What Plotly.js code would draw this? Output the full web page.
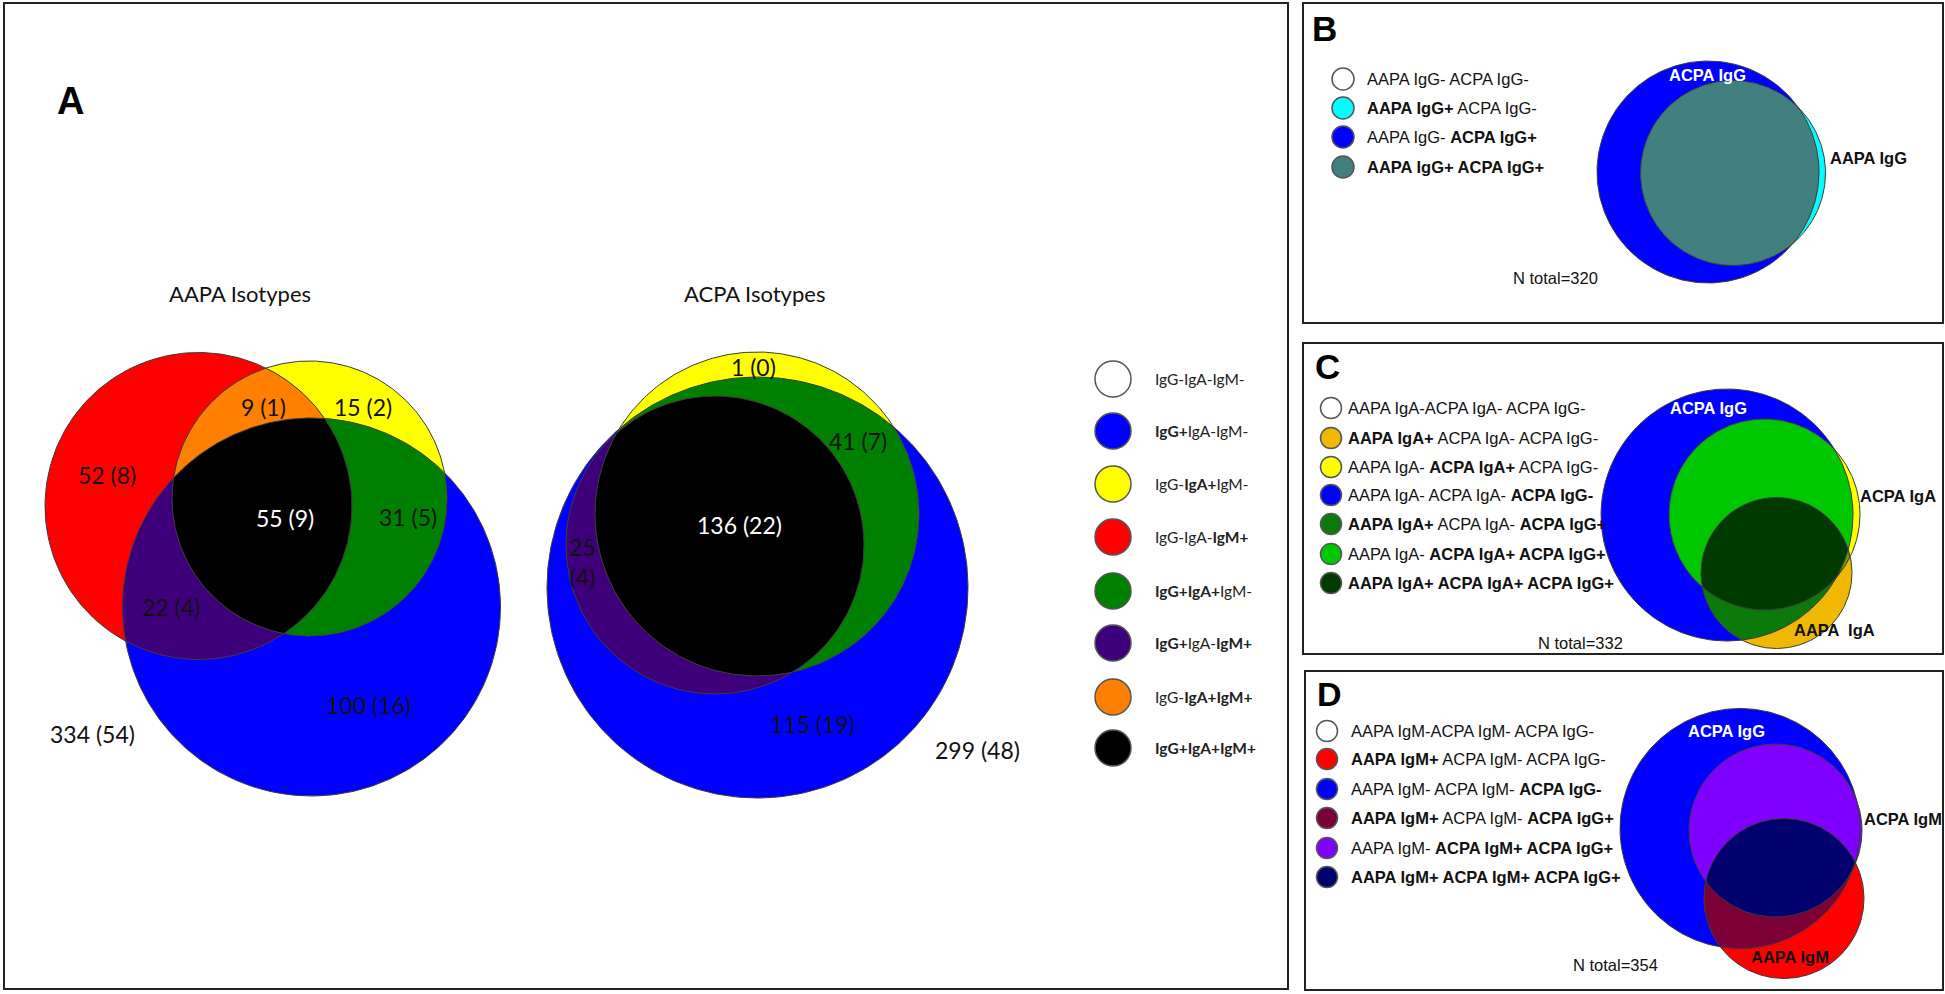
<!DOCTYPE html>
<html>
<head>
<meta charset="utf-8">
<script src="https://cdn.plot.ly/plotly-3.0.1.min.js"></script>
<style>html,body{margin:0;padding:0;background:#fff;}</style>
</head>
<body>
<div id="fig" style="width:1945px;height:994px;"></div>
<script>
// ---- values ----
// panel A, AAPA isotypes: IgM only, IgA+IgM, IgA only, all, IgG+IgA, IgG+IgM, IgG only, none
var aapaN = [52, 9, 15, 55, 31, 22, 100, 334];
var aapaPct = [8, 1, 2, 9, 5, 4, 16, 54];
// panel A, ACPA isotypes: IgA only, IgG+IgA, all, IgG+IgM, IgG only, none
var acpaN = [1, 41, 136, 25, 115, 299];
var acpaPct = [0, 7, 22, 4, 19, 48];

var isoLegend = ['IgG-IgA-IgM-', '<b>IgG+</b>IgA-IgM-', 'IgG-<b>IgA+</b>IgM-', 'IgG-IgA-<b>IgM+</b>',
  '<b>IgG+IgA+</b>IgM-', '<b>IgG+</b>IgA-<b>IgM+</b>', 'IgG-<b>IgA+IgM+</b>', '<b>IgG+IgA+IgM+</b>'];
var isoColors = ['#ffffff', '#0000ff', '#ffff00', '#ff0000', '#008000', '#3d007a', '#ff8000', '#000000'];

var bLegend = ['AAPA IgG- ACPA IgG-', '<b>AAPA IgG+</b> ACPA IgG-', 'AAPA IgG- <b>ACPA IgG+</b>', '<b>AAPA IgG+ ACPA IgG+</b>'];
var bColors = ['#ffffff', '#00ffff', '#0000ff', '#427f7f'];

var cLegend = ['AAPA IgA-ACPA IgA- ACPA IgG-', '<b>AAPA IgA+</b> ACPA IgA- ACPA IgG-', 'AAPA IgA- <b>ACPA IgA+</b> ACPA IgG-',
  'AAPA IgA- ACPA IgA- <b>ACPA IgG-</b>', '<b>AAPA IgA+</b> ACPA IgA- <b>ACPA IgG+</b>', 'AAPA IgA- <b>ACPA IgA+ ACPA IgG+</b>',
  '<b>AAPA IgA+ ACPA IgA+ ACPA IgG+</b>'];
var cColors = ['#ffffff', '#f0b800', '#ffff00', '#0000ff', '#0b7a0b', '#00c800', '#003a00'];

var dLegend = ['AAPA IgM-ACPA IgM- ACPA IgG-', '<b>AAPA IgM+</b> ACPA IgM- ACPA IgG-', 'AAPA IgM- ACPA IgM- <b>ACPA IgG-</b>',
  '<b>AAPA IgM+</b> ACPA IgM- <b>ACPA IgG+</b>', 'AAPA IgM- <b>ACPA IgM+ ACPA IgG+</b>', '<b>AAPA IgM+ ACPA IgM+ ACPA IgG+</b>'];
var dColors = ['#ffffff', '#ff0000', '#0000ff', '#7a0036', '#8000ff', '#00006e'];

var nTotal = [320, 332, 354];

// ---- drawing geometry (canvas units) ----
var W = 1945, H = 994;
var fontA = 'Lato, "Open Sans", sans-serif';
var fontN = '"Liberation Sans", Arial, sans-serif';

// each venn: circles, colour of every region (key = indices of circles it lies in)
var venns = [
  { // AAPA: IgG, IgA, IgM
    c: [{x: 311.5, y: 607, r: 189}, {x: 309.5, y: 498.5, r: 137.5}, {x: 198.5, y: 506, r: 153.5}],
    col: {'0': isoColors[1], '1': isoColors[2], '2': isoColors[3], '01': isoColors[4], '02': isoColors[5], '12': isoColors[6], '012': isoColors[7]}
  },
  { // ACPA: IgG, IgA, IgM
    c: [{x: 757.5, y: 587.5, r: 210.5}, {x: 757, y: 514, r: 162}, {x: 715, y: 545, r: 149}],
    col: {'0': isoColors[1], '1': isoColors[2], '2': isoColors[3], '01': isoColors[4], '02': isoColors[5], '12': isoColors[6], '012': isoColors[7]}
  },
  { // B: ACPA IgG, AAPA IgG
    c: [{x: 1708, y: 172, r: 111}, {x: 1733, y: 173, r: 92.5}],
    col: {'0': bColors[2], '1': bColors[1], '01': bColors[3]}
  },
  { // C: ACPA IgG, ACPA IgA, AAPA IgA
    c: [{x: 1727, y: 515, r: 126}, {x: 1764.5, y: 514.5, r: 95.5}, {x: 1776.5, y: 573, r: 75.5}],
    col: {'0': cColors[3], '1': cColors[2], '2': cColors[1], '01': cColors[5], '02': cColors[4], '12': '#6a9a00', '012': cColors[6]}
  },
  { // D: ACPA IgG, ACPA IgM, AAPA IgM
    c: [{x: 1740, y: 828.5, r: 120}, {x: 1775.5, y: 830.5, r: 86.5}, {x: 1784, y: 898.5, r: 80}],
    col: {'0': dColors[2], '1': dColors[4], '2': dColors[1], '01': dColors[4], '02': dColors[3], '12': dColors[5], '012': dColors[5]}
  }
];

// intersection of a set of discs, as a closed polygon
function interPoly(cs) {
  var pts = [], N = 720;
  function inAll(px, py, s1, s2) {
    for (var k = 0; k < cs.length; k++) {
      if (k === s1 || k === s2) continue;
      var dx = px - cs[k].x, dy = py - cs[k].y;
      if (Math.sqrt(dx * dx + dy * dy) > cs[k].r + 0.05) return false;
    }
    return true;
  }
  cs.forEach(function(c, i) {
    for (var t = 0; t < N; t++) {
      var a = 2 * Math.PI * t / N;
      var px = c.x + c.r * Math.cos(a), py = c.y + c.r * Math.sin(a);
      if (inAll(px, py, i, -1)) pts.push([px, py]);
    }
  });
  for (var i = 0; i < cs.length; i++) {
    for (var j = i + 1; j < cs.length; j++) {
      var a = cs[i], b = cs[j];
      var dx = b.x - a.x, dy = b.y - a.y, d = Math.sqrt(dx * dx + dy * dy);
      if (d === 0 || d > a.r + b.r || d < Math.abs(a.r - b.r)) continue;
      var l = (a.r * a.r - b.r * b.r + d * d) / (2 * d), h = Math.sqrt(Math.max(0, a.r * a.r - l * l));
      var mx = a.x + l * dx / d, my = a.y + l * dy / d;
      [[mx + h * dy / d, my - h * dx / d], [mx - h * dy / d, my + h * dx / d]].forEach(function(p) {
        if (inAll(p[0], p[1], i, j)) pts.push(p);
      });
    }
  }
  if (pts.length < 3) return null;
  var cx = 0, cy = 0;
  pts.forEach(function(p) { cx += p[0]; cy += p[1]; });
  cx /= pts.length; cy /= pts.length;
  pts.sort(function(p, q) { return Math.atan2(p[1] - cy, p[0] - cx) - Math.atan2(q[1] - cy, q[0] - cx); });
  pts.push(pts[0]);
  return pts;
}

var traces = [];
venns.forEach(function(v) {
  var n = v.c.length, keys = [];
  for (var m = 1; m < (1 << n); m++) {
    var k = '';
    for (var i = 0; i < n; i++) if (m & (1 << i)) k += i;
    keys.push(k);
  }
  keys.sort(function(a, b) { return a.length - b.length || (a < b ? -1 : 1); });
  keys.forEach(function(k) {
    var poly = interPoly(k.split('').map(function(s) { return v.c[+s]; }));
    if (!poly) return;
    traces.push({
      type: 'scatter', mode: 'lines', fill: 'toself', fillcolor: v.col[k],
      x: poly.map(function(p) { return p[0]; }), y: poly.map(function(p) { return p[1]; }),
      line: {width: 0, color: v.col[k]}, hoverinfo: 'skip', showlegend: false
    });
  });
  v.c.forEach(function(c) {
    var xs = [], ys = [];
    for (var t = 0; t <= 360; t++) {
      xs.push(c.x + c.r * Math.cos(t * Math.PI / 180));
      ys.push(c.y + c.r * Math.sin(t * Math.PI / 180));
    }
    traces.push({type: 'scatter', mode: 'lines', x: xs, y: ys, line: {width: 1, color: '#3a3a3a'}, hoverinfo: 'skip', showlegend: false});
  });
});

// legend swatches
function swatches(colors, x0, ys, size) {
  traces.push({
    type: 'scatter', mode: 'markers', x: ys.map(function() { return x0; }), y: ys,
    marker: {size: size, color: colors, line: {width: 1.5, color: '#555'}},
    hoverinfo: 'skip', showlegend: false
  });
}
var legAY = [379, 431, 484, 537, 591, 643, 697, 748];
var legBY = [79, 108, 137, 167];
var legCY = [408, 438, 467, 495, 524, 554, 583];
var legDY = [731, 759, 789, 818, 848, 877];
swatches(isoColors, 1113, legAY, 36);
swatches(bColors, 1343, legBY, 22);
swatches(cColors, 1331, legCY, 21);
swatches(dColors, 1327, legDY, 21);

var ann = [];
function txt(t, x, y, size, color, family, anchor) {
  ann.push({text: t, x: x, y: y, xref: 'x', yref: 'y', showarrow: false, xanchor: anchor || 'center', yanchor: 'middle',
    font: {size: size, color: color, family: family}});
}
// panel letters
txt('<b>A</b>', 70, 101, 38, '#000', 'Liberation Sans, Arial, sans-serif');
txt('<b>B</b>', 1324, 28, 35, '#000', 'Liberation Sans, Arial, sans-serif');
txt('<b>C</b>', 1327, 366, 35, '#000', 'Liberation Sans, Arial, sans-serif');
txt('<b>D</b>', 1329, 694, 34, '#000', 'Liberation Sans, Arial, sans-serif');

// panel A
txt('AAPA Isotypes', 240, 293, 22, '#111', fontA);
txt('ACPA Isotypes', 754, 293, 22, '#111', fontA);
var aapaX = [107, 263, 363, 285, 408, 171, 368, 92];
var aapaY = [475, 407, 407, 518, 517, 607, 705, 734];
aapaN.forEach(function(n, i) {
  txt(n + ' (' + aapaPct[i] + ')', aapaX[i], aapaY[i], 23, i === 3 ? '#fff' : '#111', fontA);
});
var acpaX = [753, 858, 739, 582, 812, 977];
var acpaY = [367, 441, 525, 562, 724, 750];
acpaN.forEach(function(n, i) {
  var s = i === 3 ? n + '<br>(' + acpaPct[i] + ')' : n + ' (' + acpaPct[i] + ')';
  txt(s, acpaX[i], acpaY[i], 23, i === 2 ? '#fff' : '#111', fontA);
});
isoLegend.forEach(function(t, i) { txt(t, 1153, legAY[i], 15.5, '#222', fontA, 'left'); });

// panels B, C, D
bLegend.forEach(function(t, i) { txt(t, 1365, legBY[i], 16.5, '#111', fontN, 'left'); });
cLegend.forEach(function(t, i) { txt(t, 1346, legCY[i], 16.5, '#111', fontN, 'left'); });
dLegend.forEach(function(t, i) { txt(t, 1349, legDY[i], 16.5, '#111', fontN, 'left'); });

txt('<b>ACPA IgG</b>', 1707, 75, 16.5, '#fff', fontN);
txt('<b>AAPA IgG</b>', 1868, 158, 16.5, '#111', fontN);
txt('<b>ACPA IgG</b>', 1708, 408, 16.5, '#fff', fontN);
txt('<b>ACPA IgA</b>', 1898, 496, 16.5, '#111', fontN);
txt('<b>AAPA  IgA</b>', 1834, 630, 16.5, '#111', fontN);
txt('<b>ACPA IgG</b>', 1726, 731, 16.5, '#fff', fontN);
txt('<b>ACPA IgM</b>', 1903, 819, 16.5, '#111', fontN);
txt('<b>AAPA IgM</b>', 1790, 957, 16.5, '#111', fontN);
var totX = [1555, 1580, 1615], totY = [278, 643, 965];
nTotal.forEach(function(n, i) { txt('N total=' + n, totX[i], totY[i], 16.5, '#111', fontN); });

// panel frames
var frames = [[4, 3, 1288, 989], [1303, 3, 1943, 323], [1303, 343, 1943, 654], [1305, 671, 1943, 990]];
var shapes = frames.map(function(f) {
  return {type: 'rect', xref: 'x', yref: 'y', x0: f[0], y0: f[1], x1: f[2], y1: f[3], line: {color: '#222', width: 2}, layer: 'below'};
});

var layout = {
  width: W, height: H, autosize: false,
  margin: {l: 0, r: 0, t: 0, b: 0, pad: 0},
  paper_bgcolor: '#fff', plot_bgcolor: '#fff',
  xaxis: {range: [0, W], visible: false, showgrid: false, zeroline: false},
  yaxis: {range: [H, 0], visible: false, showgrid: false, zeroline: false},
  annotations: ann, shapes: shapes, showlegend: false
};
Plotly.newPlot('fig', traces, layout, {staticPlot: true, displayModeBar: false});
</script>
</body>
</html>
